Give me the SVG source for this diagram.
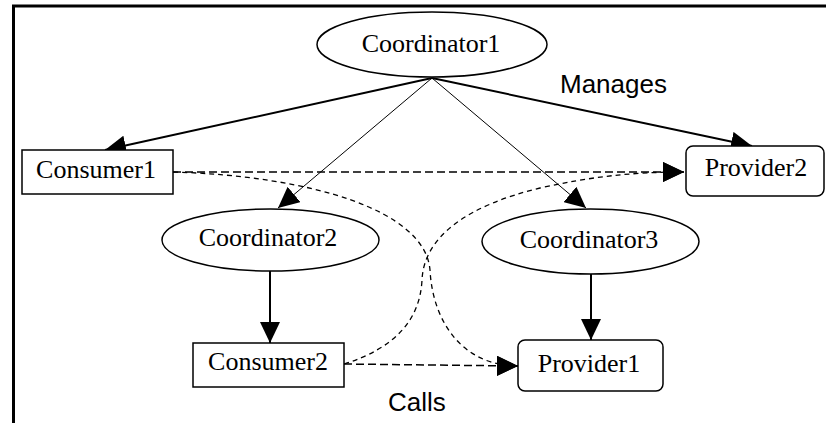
<svg xmlns="http://www.w3.org/2000/svg" width="826" height="423" viewBox="0 0 826 423">
<style>
.node{fill:#fff;stroke:#000;stroke-width:1.5}
.lbl{font-family:"Liberation Serif","Times New Roman",serif;font-size:26px;fill:#000;text-anchor:middle}
.edge{font-family:"Liberation Sans",Arial,sans-serif;font-size:26px;fill:#000}
.solid{fill:none;stroke:#000;stroke-width:2}
.thin{fill:none;stroke:#000;stroke-width:1}
.dash{fill:none;stroke:#000;stroke-width:1.5;stroke-dasharray:8 4}
.dcurve{fill:none;stroke:#000;stroke-width:1.3;stroke-dasharray:5 4}
</style>
<defs>
<marker id="ah" markerUnits="userSpaceOnUse" markerWidth="21" markerHeight="20" refX="21" refY="10" orient="auto" viewBox="0 0 21 20">
<path d="M0,0 L21,10 L0,20 z" fill="#000"/>
</marker>
</defs>
<rect width="826" height="423" fill="#fff"/>
<path d="M13.5,423 L13.5,6 L826,6" fill="none" stroke="#000" stroke-width="3"/>
<g id="connectors">
<line class="solid" x1="432" y1="78" x2="105" y2="150" marker-end="url(#ah)"/>
<line class="solid" x1="432" y1="78" x2="752" y2="146" marker-end="url(#ah)"/>
<line class="thin" x1="432" y1="78" x2="278" y2="208" marker-end="url(#ah)"/>
<line class="thin" x1="432" y1="78" x2="586" y2="208" marker-end="url(#ah)"/>
<line class="solid" x1="270" y1="271" x2="270" y2="343" marker-end="url(#ah)"/>
<line class="solid" x1="591" y1="274" x2="591" y2="340" marker-end="url(#ah)"/>
<line class="dash" x1="173" y1="172" x2="684" y2="172" marker-end="url(#ah)"/>
<line class="dash" x1="344" y1="364" x2="518" y2="366" marker-end="url(#ah)"/>
<path class="dcurve" d="M173,172 C310,176 425,210 430,270 C433,325 465,366 518,366" marker-end="url(#ah)"/>
<path class="dcurve" d="M344,364 C395,348 420,320 422,280 C424,235 470,205 540,188 C590,177 630,172 684,172" marker-end="url(#ah)"/>
<text class="edge" x="560" y="93">Manages</text>
<text class="edge" x="388" y="411">Calls</text>
</g>
<g id="Coordinator1">
<ellipse class="node" cx="432" cy="44.5" rx="115" ry="32.5"/>
<text class="lbl" x="431" y="52">Coordinator1</text>
</g>
<g id="Consumer1">
<rect class="node" x="22" y="150" width="151" height="44"/>
<text class="lbl" x="96" y="178">Consumer1</text>
</g>
<g id="Provider2">
<rect class="node" x="686" y="146" width="138" height="50" rx="7"/>
<text class="lbl" x="756" y="176">Provider2</text>
</g>
<g id="Coordinator2">
<ellipse class="node" cx="270.5" cy="240" rx="108.5" ry="31"/>
<text class="lbl" x="268" y="246">Coordinator2</text>
</g>
<g id="Coordinator3">
<ellipse class="node" cx="590.5" cy="241.5" rx="108.5" ry="32.5"/>
<text class="lbl" x="589" y="248">Coordinator3</text>
</g>
<g id="Consumer2">
<rect class="node" x="193" y="343" width="151" height="44"/>
<text class="lbl" x="268" y="370">Consumer2</text>
</g>
<g id="Provider1">
<rect class="node" x="518" y="340" width="145" height="51" rx="7"/>
<text class="lbl" x="589" y="372">Provider1</text>
</g>
</svg>
